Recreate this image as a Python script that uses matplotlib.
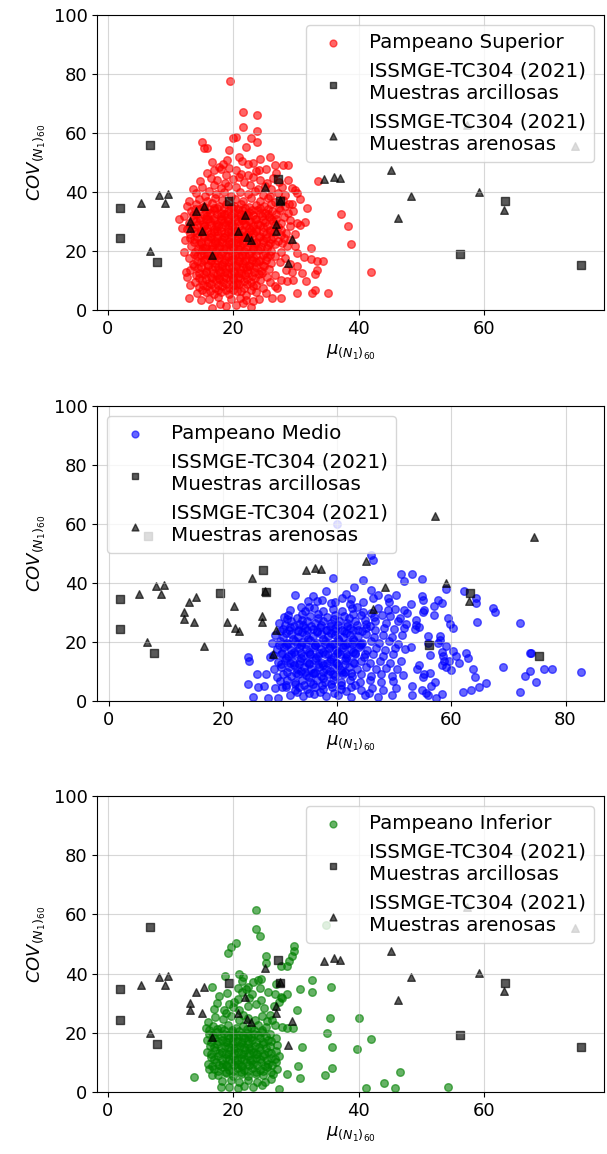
import numpy as np
import matplotlib.pyplot as plt
from matplotlib.ticker import MultipleLocator

# ISSMGE-TC304 (2021) reference data (same in the three panels)
arcilla_x = [6.8, 2.0, 2.0, 7.9, 27.1, 19.4, 27.5, 56.1, 63.3, 75.4]
arcilla_y = [55.8, 34.7, 24.5, 16.2, 44.5, 36.8, 37.0, 19.1, 36.8, 15.3]

arena_x = [5.3, 8.2, 9.7, 9.1, 6.7, 13.2, 13.2, 14.1, 15.3, 15.0, 16.6, 25.1, 21.9, 20.8,
           22.2, 22.9, 26.9, 26.8, 27.4, 29.3, 28.7, 34.5, 36.1, 37.1, 45.1, 48.4, 46.3,
           59.1, 63.1, 74.4, 57.2]
arena_y = [36.3, 38.9, 39.3, 36.3, 19.9, 30.1, 27.7, 33.7, 35.4, 26.7, 18.5, 41.8, 32.2, 26.8,
           24.6, 23.7, 29.0, 26.7, 37.3, 24.0, 15.9, 44.3, 45.2, 44.7, 47.5, 38.8, 31.2,
           40.1, 34.0, 55.5, 62.6]

# Pampeano Superior (mu, COV)
superior_pts = [
    (19.5, 77.6), (21.6, 67.0), (23.8, 66.2), (21.6, 62.0), (23.8, 60.8), (15.1, 57.1), (15.3, 55.0),
    (15.9, 54.8), (20.0, 58.4), (20.5, 58.8), (22.0, 55.4), (22.8, 58.2), (23.8, 56.8), (19.3, 54.1),
    (20.9, 51.8), (19.0, 50.9), (24.2, 51.1), (25.9, 52.0), (17.0, 47.5), (17.8, 48.6), (18.1, 47.9),
    (19.3, 48.0), (20.4, 47.5), (22.3, 49.4), (24.1, 47.5), (25.2, 47.8), (16.4, 44.6), (20.9, 45.0),
    (22.3, 45.8), (23.1, 45.0), (13.6, 40.9), (15.5, 38.7), (13.0, 37.0), (11.3, 30.9), (11.9, 27.7),
    (12.2, 19.8), (12.5, 13.0), (12.7, 11.3), (13.1, 8.5), (13.0, 4.0), (14.8, 3.4), (16.7, 0.6),
    (18.8, 1.4), (22.0, 3.4), (24.1, 3.6), (26.2, 4.0), (27.0, 7.4), (22.9, 1.0),
    (27.9, 49.2), (28.8, 49.2), (28.7, 44.1), (29.3, 41.2), (29.8, 40.7), (30.1, 39.8), (30.7, 37.5),
    (28.9, 35.8), (29.3, 35.9), (31.8, 34.5), (28.7, 32.8), (30.2, 29.4), (30.6, 28.8), (31.4, 29.9),
    (29.0, 28.3), (27.6, 27.1), (28.4, 26.0), (28.1, 24.3), (27.8, 22.6), (28.6, 21.8), (30.1, 19.4),
    (32.4, 21.1), (32.4, 17.3), (33.4, 16.6), (34.3, 16.6), (33.4, 13.6), (33.0, 12.2), (30.2, 15.0),
    (29.4, 13.0), (31.0, 12.4), (31.6, 9.9), (29.5, 10.2), (27.7, 10.2), (30.1, 5.7), (32.6, 5.9),
    (33.1, 6.8), (35.1, 5.7), (27.7, 4.0), (33.5, 43.7), (37.2, 32.6), (38.3, 28.3), (38.8, 22.3),
    (42.0, 12.9),
    (16.6, 50.3), (18.4, 49.6), (21.4, 50.6), (23.1, 49.9), (26.6, 49.3),
    (15.9, 46.6), (21.3, 46.2), (23.6, 47.1), (26.9, 46.4), (18.9, 45.7),
    (14.7, 43.6), (17.4, 44.2), (18.7, 43.1), (19.9, 44.5), (21.8, 43.4), (24.3, 44.0), (25.4, 43.2),
    (26.3, 44.8), (27.3, 43.5),
    (15.1, 41.8), (16.9, 42.4), (18.1, 41.3), (19.2, 42.0), (20.5, 41.6), (22.7, 42.3), (23.9, 41.0),
    (25.0, 42.1), (26.1, 40.9), (27.8, 41.7),
    (14.1, 39.6), (16.1, 40.3), (17.3, 39.2), (18.6, 40.1), (19.7, 38.8), (21.1, 39.9), (22.3, 39.4),
    (23.5, 40.2), (24.7, 39.1), (25.9, 38.6), (27.1, 39.7), (28.3, 38.9),
    (14.6, 37.6), (15.9, 36.9), (17.1, 38.0), (18.3, 37.2), (20.3, 37.7), (21.6, 36.8), (22.9, 38.1),
    (24.3, 37.0), (25.6, 37.9), (26.7, 36.6), (27.9, 37.4),
    (12.6, 35.4), (14.1, 35.9), (15.3, 35.0), (16.6, 36.2), (17.7, 35.3), (18.9, 36.0), (20.1, 35.1),
    (21.3, 35.8), (22.5, 34.9), (23.7, 35.6), (24.9, 35.2), (26.1, 35.9), (27.3, 34.7), (28.3, 35.3),
    (13.3, 33.6), (14.6, 34.1), (15.7, 33.2), (16.9, 33.9), (18.0, 32.9), (19.1, 33.7), (20.2, 33.0),
    (21.4, 33.8), (22.6, 33.1), (23.8, 33.9), (25.0, 32.8), (26.2, 33.5), (27.5, 33.9), (29.6, 33.4),
    (12.1, 31.7), (13.6, 32.2), (14.7, 31.3), (15.8, 32.0), (16.9, 31.1), (18.0, 31.8), (19.1, 30.9),
    (20.2, 31.6), (21.3, 31.2), (22.4, 32.1), (23.5, 31.0), (24.6, 31.7), (25.7, 31.4), (26.9, 30.8),
    (28.1, 31.6),
    (12.9, 29.6), (14.1, 30.2), (15.2, 29.3), (16.3, 30.0), (17.4, 29.1), (18.5, 29.8), (19.6, 29.4),
    (20.7, 30.1), (21.8, 29.2), (22.9, 29.9), (24.0, 29.0), (25.1, 29.7), (26.3, 30.3), (27.6, 29.5),
    (29.1, 30.4),
    (12.6, 27.4), (13.7, 28.1), (14.8, 27.2), (15.9, 27.9), (17.0, 27.6), (18.1, 28.2), (19.2, 27.3),
    (20.3, 28.0), (21.4, 27.1), (22.5, 27.8), (23.6, 27.4), (24.7, 28.1), (25.9, 27.2), (27.1, 28.0),
    (13.1, 25.7), (14.3, 26.2), (15.4, 25.3), (16.5, 26.0), (17.6, 25.5), (18.7, 26.1), (19.8, 25.2),
    (20.9, 25.9), (22.0, 25.4), (23.1, 26.2), (24.2, 25.1), (25.3, 25.8), (26.5, 26.3), (27.7, 25.5),
    (29.9, 25.9),
    (12.4, 23.6), (13.7, 24.1), (14.9, 23.2), (16.0, 23.9), (17.1, 23.4), (18.2, 24.2), (19.3, 23.3),
    (20.4, 24.0), (21.5, 23.5), (22.6, 24.3), (23.7, 23.1), (24.8, 23.8), (26.0, 24.2), (27.1, 23.3),
    (29.1, 23.7),
    (13.3, 21.8), (14.5, 22.3), (15.6, 21.4), (16.7, 22.1), (17.8, 21.6), (18.9, 22.4), (20.0, 21.3),
    (21.1, 22.0), (22.2, 21.5), (23.3, 22.2), (24.4, 21.2), (25.5, 21.9), (26.6, 22.4), (29.9, 21.6),
    (13.9, 19.7), (15.1, 20.2), (16.2, 19.4), (17.3, 20.1), (18.4, 19.6), (19.5, 20.3), (20.6, 19.2),
    (21.7, 19.9), (22.8, 19.5), (23.9, 20.2), (25.0, 19.3), (26.1, 20.0), (27.6, 19.6),
    (12.9, 17.6), (14.3, 18.2), (15.5, 17.3), (16.6, 18.0), (17.7, 17.5), (18.8, 18.3), (19.9, 17.2),
    (21.0, 17.9), (22.1, 17.4), (23.2, 18.1), (24.3, 17.1), (25.4, 17.8), (26.7, 18.2), (28.3, 17.6),
    (31.3, 18.0),
    (13.6, 15.7), (14.9, 16.2), (16.0, 15.3), (17.1, 16.0), (18.2, 15.5), (19.3, 16.3), (20.4, 15.2),
    (21.5, 15.9), (22.6, 15.4), (23.7, 16.1), (24.8, 15.1), (26.1, 15.8), (27.5, 16.2), (29.1, 15.6),
    (13.1, 13.6), (14.4, 14.1), (15.6, 13.2), (16.7, 13.9), (17.8, 13.4), (18.9, 14.2), (20.0, 13.3),
    (21.1, 14.0), (22.2, 13.5), (23.3, 14.3), (24.5, 13.2), (25.7, 13.9), (28.4, 13.7),
    (14.1, 11.7), (15.3, 12.2), (16.4, 11.3), (17.5, 12.0), (18.6, 11.5), (19.7, 12.3), (20.8, 11.2),
    (21.9, 11.9), (23.0, 11.4), (24.1, 12.1), (25.4, 11.3), (26.7, 12.0),
    (13.9, 9.6), (15.1, 10.2), (16.2, 9.3), (17.3, 10.0), (18.4, 9.5), (19.5, 10.3), (20.6, 9.2),
    (21.7, 9.9), (22.9, 9.4), (24.3, 10.1), (25.9, 9.5), (28.6, 9.8),
    (14.6, 7.7), (15.9, 8.2), (17.1, 7.4), (18.3, 8.1), (19.4, 7.6), (20.5, 8.3), (21.7, 7.3),
    (23.1, 8.0), (24.7, 7.5), (26.6, 8.2),
    (14.3, 5.6), (15.6, 6.2), (16.9, 5.4), (18.1, 6.1), (19.3, 5.5), (20.6, 6.3), (22.1, 5.2),
    (23.6, 6.0), (25.3, 5.7),
    (16.1, 3.8), (17.6, 4.3), (19.7, 3.6), (21.1, 4.2), (23.1, 3.2), (17.9, 2.1), (20.4, 1.8), (21.6, 2.4),
    (16.0, 30.9), (17.2, 28.6), (18.3, 30.4), (19.4, 28.9), (20.5, 26.9), (21.6, 30.6), (17.4, 26.8),
    (18.5, 24.9), (19.6, 26.6), (20.7, 22.9), (21.8, 24.6), (16.3, 24.6), (17.5, 22.7), (18.6, 20.9),
    (19.7, 22.6), (20.8, 20.7), (21.9, 18.7), (16.4, 20.8), (17.6, 18.8), (18.7, 16.9), (19.8, 18.6),
    (20.9, 16.6), (22.0, 14.7), (16.5, 16.8), (17.6, 14.7), (18.7, 12.8), (19.8, 14.6), (20.9, 12.7),
    (17.7, 10.8), (19.9, 10.7), (18.8, 32.6), (20.0, 34.4), (17.0, 34.6), (21.2, 32.5), (22.8, 27.0),
    (23.2, 20.8), (23.0, 16.9), (15.3, 28.5), (15.2, 21.0), (15.4, 18.9),
]

# dense core of the Pampeano Superior cloud
superior_core = [
    (14.0, 34.3), (15.2, 34.8), (16.2, 34.1), (17.4, 34.6), (18.5, 34.4), (19.6, 34.9), (20.8, 34.2),
    (21.9, 34.7), (23.0, 34.0), (24.2, 34.5), (25.5, 34.3),
    (14.1, 32.6), (15.3, 32.3), (16.3, 32.9), (17.5, 32.4), (18.6, 32.7), (19.7, 32.1), (20.9, 32.8),
    (22.0, 32.5), (23.1, 32.2), (24.3, 32.9), (25.6, 32.4), (26.8, 32.6),
    (13.6, 30.8), (14.7, 30.4), (15.7, 30.9), (16.9, 30.5), (18.0, 30.7), (19.1, 30.2), (20.3, 30.9),
    (21.4, 30.6), (22.5, 30.3), (23.6, 30.8), (24.8, 30.5), (26.0, 30.7),
    (13.2, 28.4), (14.3, 28.9), (15.4, 28.5), (16.5, 28.7), (17.6, 28.3), (18.7, 28.8), (19.8, 28.6),
    (20.9, 28.4), (22.0, 28.9), (23.1, 28.5), (24.2, 28.7), (25.4, 28.3), (26.6, 28.8),
    (13.7, 26.8), (14.8, 26.4), (15.9, 26.9), (17.0, 26.5), (18.1, 26.7), (19.2, 26.3), (20.3, 26.8),
    (21.4, 26.6), (22.5, 26.4), (23.6, 26.9), (24.7, 26.5), (25.9, 26.7),
    (13.1, 24.5), (14.2, 24.9), (15.3, 24.6), (16.4, 24.8), (17.5, 24.4), (18.6, 24.9), (19.7, 24.7),
    (20.8, 24.5), (21.9, 24.8), (23.0, 24.6), (24.1, 24.9), (25.2, 24.4), (26.4, 24.7),
    (13.8, 22.9), (14.9, 22.6), (16.0, 23.0), (17.1, 22.7), (18.2, 22.9), (19.3, 22.5), (20.4, 22.8),
    (21.5, 22.6), (22.6, 23.0), (23.7, 22.7), (24.8, 22.9), (25.9, 22.6),
    (14.4, 20.6), (15.5, 21.0), (16.6, 20.7), (17.7, 20.9), (18.8, 20.5), (19.9, 21.0), (21.0, 20.8),
    (22.1, 20.6), (23.2, 20.9), (24.3, 20.7), (25.4, 21.0),
    (13.7, 18.9), (14.8, 18.5), (15.9, 18.8), (17.0, 18.6), (18.1, 18.9), (19.2, 18.4), (20.3, 18.8),
    (21.4, 18.6), (22.5, 18.9), (23.6, 18.5), (24.7, 18.8), (25.9, 18.6),
    (14.2, 16.5), (15.3, 16.9), (16.4, 16.6), (17.5, 16.8), (18.6, 16.4), (19.7, 16.9), (20.8, 16.7),
    (21.9, 16.5), (23.0, 16.8), (24.1, 16.6), (25.3, 16.9),
    (13.8, 14.9), (14.9, 14.5), (16.0, 14.8), (17.1, 14.6), (18.2, 14.9), (19.3, 14.4), (20.4, 14.8),
    (21.5, 14.6), (22.6, 14.9), (23.7, 14.5), (24.9, 14.8),
    (14.6, 12.5), (15.7, 12.9), (16.8, 12.6), (17.9, 12.8), (19.0, 12.4), (20.1, 12.9), (21.2, 12.7),
    (22.3, 12.5), (23.4, 12.8), (24.6, 12.6),
    (14.5, 10.9), (15.6, 10.5), (16.7, 10.8), (17.8, 10.6), (18.9, 10.9), (20.0, 10.4), (21.1, 10.8),
    (22.2, 10.6), (23.5, 10.9),
    (15.2, 8.5), (16.4, 8.9), (17.6, 8.6), (18.8, 8.8), (19.9, 8.4), (21.0, 8.9), (22.2, 8.7),
    (23.6, 8.5),
    (15.0, 6.9), (16.3, 6.5), (17.6, 6.8), (18.8, 6.6), (20.0, 6.9), (21.3, 6.4), (22.8, 6.8),
]

# Pampeano Medio (mu, COV)
medio_pts = [
    (40.0, 60.0), (46.2, 47.8), (46.0, 49.5), (39.2, 41.8), (44.5, 41.2), (51.1, 43.0), (51.7, 40.8),
    (53.1, 43.2), (54.9, 41.4), (59.1, 38.0), (62.3, 37.4), (64.4, 34.8), (64.4, 33.1), (67.3, 31.6),
    (67.7, 30.3), (64.5, 26.8), (72.0, 26.3), (54.8, 35.7), (55.0, 34.2), (57.7, 34.2), (58.3, 33.1),
    (56.9, 32.2), (55.0, 30.3), (55.3, 30.9), (56.9, 29.2), (59.4, 28.0), (59.8, 26.0), (60.3, 24.9),
    (53.0, 32.9), (53.9, 27.5), (53.9, 25.8), (53.6, 24.3), (54.3, 25.0), (55.9, 22.0), (58.0, 22.0),
    (58.1, 20.7), (57.7, 19.6), (59.0, 18.6), (60.3, 17.1), (60.9, 15.3), (61.3, 13.0), (62.5, 16.4),
    (62.9, 14.5), (58.3, 16.7), (58.6, 15.3), (58.7, 13.7), (59.6, 13.7), (58.3, 12.2), (59.0, 11.6),
    (60.0, 10.5), (56.3, 15.6), (53.0, 18.2), (54.3, 12.2), (54.0, 10.7), (55.3, 9.2), (56.2, 9.4),
    (55.0, 8.2), (63.8, 10.7), (64.1, 8.3), (69.1, 11.4), (66.1, 6.2), (64.8, 4.9), (63.5, 3.7),
    (62.0, 3.1), (57.1, 6.6), (56.5, 5.1), (54.8, 3.7), (55.6, 2.6), (55.9, 2.0), (58.3, 2.3),
    (57.4, 0.9), (53.2, 5.1), (53.2, 2.0), (73.8, 16.2), (73.9, 16.3), (72.9, 8.6), (73.8, 10.2),
    (74.8, 6.6), (76.3, 10.7), (77.7, 10.7), (72.1, 3.2), (82.7, 10.0), (55.9, 19.6),
    (32.7, 35.9), (38.1, 37.4), (36.5, 33.9), (34.9, 33.9), (35.0, 32.0), (33.6, 31.8), (39.0, 33.3),
    (39.6, 33.7), (40.8, 35.1), (42.4, 34.5), (42.2, 32.9), (43.5, 31.8), (44.5, 30.3), (44.1, 29.2),
    (46.3, 35.1), (47.2, 35.9), (48.9, 34.8), (49.0, 33.7), (45.9, 30.0), (47.8, 29.2), (50.1, 31.1),
    (51.8, 30.9), (52.3, 29.7), (30.7, 28.4), (31.4, 29.2), (32.9, 28.0), (24.4, 15.0), (24.6, 13.7),
    (28.2, 15.0), (25.9, 9.2), (27.6, 9.2), (24.4, 5.8), (26.2, 4.9), (27.2, 5.1), (25.3, 1.5),
    (27.9, 0.9), (29.7, 0.9), (29.1, 4.3), (31.1, 4.9), (32.6, 3.7), (30.2, 11.6), (29.4, 8.3),
    (29.8, 26.4), (31.9, 27.1), (33.4, 26.2), (34.8, 27.0), (36.1, 26.5), (37.5, 27.3), (38.9, 26.3),
    (40.3, 27.0), (41.8, 26.6), (43.2, 27.2), (45.0, 26.1), (46.7, 27.0), (48.5, 26.4), (50.6, 27.2),
    (52.0, 26.0),
    (30.5, 24.3), (31.8, 25.0), (33.1, 24.1), (34.4, 24.9), (35.7, 24.4), (37.0, 25.1), (38.3, 24.2),
    (39.6, 24.8), (40.9, 24.0), (42.2, 24.7), (43.6, 24.2), (45.1, 24.9), (46.6, 24.1), (48.2, 24.8),
    (50.0, 24.3), (51.8, 24.6),
    (29.2, 22.3), (30.6, 21.8), (31.9, 22.6), (33.2, 21.7), (34.5, 22.5), (35.8, 22.0), (37.1, 22.8),
    (38.4, 21.9), (39.7, 22.4), (41.0, 21.6), (42.3, 22.5), (43.6, 21.9), (45.0, 22.7), (46.5, 21.8),
    (48.0, 22.4), (49.6, 21.7), (51.3, 22.3),
    (28.6, 19.8), (30.0, 20.4), (31.3, 19.6), (32.6, 20.3), (33.9, 19.9), (35.2, 20.6), (36.5, 19.7),
    (37.8, 20.2), (39.1, 19.5), (40.4, 20.4), (41.7, 19.8), (43.0, 20.5), (44.4, 19.6), (45.9, 20.3),
    (47.4, 19.7), (49.0, 20.4), (50.7, 19.5),
    (29.4, 17.6), (30.7, 18.2), (32.0, 17.4), (33.3, 18.1), (34.6, 17.7), (35.9, 18.4), (37.2, 17.5),
    (38.5, 18.0), (39.8, 17.3), (41.1, 18.2), (42.4, 17.6), (43.8, 18.3), (45.3, 17.4), (46.8, 18.0),
    (48.4, 17.3), (50.1, 18.1), (51.9, 17.5),
    (28.8, 15.7), (30.1, 16.0), (31.4, 15.2), (32.7, 15.9), (34.0, 15.4), (35.3, 16.1), (36.6, 15.2),
    (37.9, 15.8), (39.2, 15.1), (40.5, 16.0), (41.8, 15.3), (43.2, 15.9), (44.7, 15.1), (46.3, 15.8),
    (48.0, 15.2), (49.8, 15.9),
    (29.6, 13.4), (30.9, 13.9), (32.2, 13.1), (33.5, 13.7), (34.8, 13.2), (36.1, 13.9), (37.4, 13.0),
    (38.7, 13.6), (40.0, 12.9), (41.3, 13.8), (42.7, 13.1), (44.2, 13.7), (45.8, 12.9), (47.5, 13.6),
    (49.3, 13.0), (51.2, 13.5),
    (28.9, 11.0), (31.6, 11.4), (32.9, 10.9), (34.2, 11.6), (35.5, 10.8), (36.8, 11.5), (38.1, 10.7),
    (39.4, 11.3), (40.7, 10.6), (42.0, 11.4), (43.5, 10.8), (45.1, 11.5), (46.8, 10.7), (48.6, 11.3),
    (50.5, 10.8),
    (30.6, 9.1), (31.9, 8.6), (33.2, 9.3), (34.5, 8.8), (35.8, 9.4), (37.1, 8.5), (38.4, 9.2),
    (39.7, 8.4), (41.1, 9.1), (42.6, 8.6), (44.2, 9.3), (45.9, 8.5), (47.7, 9.1), (49.6, 8.4),
    (51.6, 9.0),
    (30.0, 6.8), (31.3, 7.3), (32.6, 6.6), (33.9, 7.2), (35.2, 6.5), (36.5, 7.1), (37.8, 6.4),
    (39.2, 7.0), (40.7, 6.3), (42.3, 7.2), (44.0, 6.5), (45.8, 7.0), (47.7, 6.3), (49.8, 6.9),
    (30.3, 4.6), (33.3, 4.9), (34.7, 4.2), (36.1, 4.8), (37.6, 4.1), (39.1, 4.7), (40.7, 4.0),
    (42.4, 4.6), (44.2, 3.9), (46.1, 4.5), (48.1, 3.8), (50.3, 4.4),
    (31.8, 2.2), (34.0, 1.8), (35.9, 2.4), (38.0, 1.6), (40.2, 2.1), (42.5, 1.5), (44.8, 2.0),
    (47.2, 1.4), (49.6, 1.9),
    (33.9, 29.4), (35.3, 28.8), (36.7, 29.6), (38.2, 28.6), (39.7, 29.3), (41.2, 28.7), (42.8, 29.5),
    (46.4, 28.4), (49.2, 28.9), (51.0, 28.3),
    (31.7, 31.0), (34.3, 30.6), (36.0, 31.4), (37.6, 30.5), (39.2, 31.2), (40.8, 30.6), (42.6, 31.5),
    (47.1, 31.6), (48.9, 30.8),
    (37.3, 34.4), (41.5, 36.2), (44.6, 33.6), (46.0, 37.8), (50.3, 36.0), (43.0, 38.5), (35.8, 35.6),
    (31.0, 23.2), (33.8, 23.4), (36.4, 23.3), (39.0, 23.2), (41.6, 23.1), (32.3, 21.0), (34.9, 21.1),
    (37.5, 21.0), (40.1, 21.1), (42.7, 21.0), (31.0, 18.9), (33.6, 19.0), (36.2, 18.9), (38.8, 18.8),
    (41.4, 18.9), (44.0, 19.0), (32.4, 16.8), (35.0, 16.7), (37.6, 16.8), (40.2, 16.7), (42.8, 16.8),
    (31.1, 14.5), (33.7, 14.6), (36.3, 14.5), (38.9, 14.4), (41.5, 14.6), (32.4, 12.3), (35.0, 12.4),
    (37.6, 12.3), (40.2, 12.2), (33.6, 10.1), (36.2, 10.0), (38.8, 10.1), (41.4, 10.0), (35.0, 8.0),
    (37.6, 7.9),
]

# dense core of the Pampeano Medio cloud
medio_core = [
    (31.2, 27.9), (33.9, 27.6), (36.7, 28.1), (39.4, 27.7), (42.1, 28.0), (44.8, 27.5),
    (30.8, 25.7), (32.4, 25.4), (34.0, 25.9), (35.5, 25.5), (37.1, 25.8), (38.7, 25.3), (40.2, 25.7),
    (41.8, 25.5), (43.4, 25.9), (45.8, 25.6),
    (30.0, 23.7), (31.6, 24.1), (33.2, 23.8), (34.8, 24.0), (36.4, 23.6), (38.0, 24.2), (39.6, 23.9),
    (41.2, 23.7), (42.8, 24.0), (44.4, 23.8),
    (29.8, 19.1), (31.4, 19.5), (33.0, 19.2), (34.6, 19.4), (36.2, 19.0), (37.8, 19.5), (39.4, 19.3),
    (41.0, 19.1), (42.6, 19.4), (44.2, 19.2),
    (30.4, 16.4), (32.0, 16.0), (33.6, 16.3), (35.2, 16.1), (36.8, 16.4), (38.4, 15.9), (40.0, 16.3),
    (41.6, 16.1), (43.2, 16.4), (44.8, 16.0),
    (30.2, 12.6), (31.8, 13.0), (33.4, 12.7), (35.0, 12.9), (36.6, 12.5), (38.2, 13.0), (39.8, 12.8),
    (41.4, 12.6), (43.0, 12.9),
    (31.2, 9.8), (32.8, 9.4), (34.4, 9.7), (36.0, 9.5), (37.6, 9.8), (39.2, 9.3), (40.8, 9.7),
    (42.4, 9.5),
    (31.0, 5.4), (32.6, 5.8), (34.2, 5.5), (35.8, 5.7), (37.4, 5.3), (39.0, 5.8), (40.6, 5.6),
    (43.1, 5.4),
    (32.9, 3.1), (35.0, 2.8), (37.0, 3.2), (39.5, 2.9), (41.6, 3.3), (45.5, 2.7),
]

# Pampeano Inferior (mu, COV)
inferior_pts = [
    (23.6, 61.6), (23.6, 55.2), (24.3, 52.6), (19.2, 46.9), (19.6, 48.9), (20.4, 50.3), (25.2, 45.8),
    (25.3, 43.5), (29.7, 49.2), (29.7, 47.5), (29.4, 45.8), (28.9, 44.1), (28.5, 42.7), (27.7, 42.7),
    (18.7, 39.3), (20.9, 39.8), (21.5, 39.0), (21.4, 37.5), (23.2, 37.1), (24.0, 37.9), (24.4, 38.2),
    (22.4, 35.6), (22.0, 34.8), (16.7, 35.6), (20.7, 35.0), (21.4, 33.9), (26.8, 36.4), (25.6, 33.9),
    (26.7, 33.0), (27.6, 32.2), (28.5, 33.0), (24.4, 31.1), (22.5, 31.6), (20.8, 31.4), (20.1, 30.3),
    (19.3, 29.6), (17.5, 30.0), (18.6, 27.7), (18.8, 26.6), (20.9, 27.7), (21.5, 26.0), (27.3, 30.5),
    (27.8, 31.7), (25.8, 26.0), (26.2, 24.3), (25.4, 24.0), (30.2, 27.7), (30.6, 34.8), (32.5, 33.9),
    (32.5, 37.9), (35.6, 35.6), (27.8, 22.0), (28.6, 21.7), (29.5, 21.5), (27.0, 16.0), (31.0, 15.3),
    (35.5, 24.9), (40.0, 25.1), (34.9, 20.1), (35.8, 15.3), (41.9, 17.9), (39.8, 14.5), (30.4, 8.8),
    (30.6, 4.8), (28.6, 6.2), (35.7, 8.2), (34.6, 5.9), (13.8, 5.1), (16.2, 7.9), (16.7, 5.7),
    (41.1, 1.4), (44.0, 3.2), (45.8, 1.4), (46.6, 6.8), (54.2, 1.7), (18.0, 1.7), (19.4, 1.7),
    (20.8, 1.4), (27.3, 1.1), (25.1, 3.4), (34.8, 56.5),
    (16.0, 23.8), (17.1, 25.2), (18.4, 24.6), (19.7, 25.6), (21.0, 24.3), (22.3, 25.1), (23.5, 24.5),
    (24.6, 25.7),
    (15.6, 21.6), (16.8, 22.4), (18.0, 21.8), (19.2, 22.6), (20.4, 21.5), (21.6, 22.3), (22.8, 21.7),
    (24.0, 22.5), (25.3, 21.9), (26.6, 22.6),
    (16.2, 19.6), (17.4, 20.3), (18.6, 19.5), (19.8, 20.2), (21.0, 19.4), (22.2, 20.1), (23.4, 19.6),
    (24.6, 20.4), (25.9, 19.7),
    (15.8, 17.6), (17.0, 18.3), (18.2, 17.5), (19.4, 18.2), (20.6, 17.4), (21.8, 18.1), (23.0, 17.6),
    (24.2, 18.3), (25.5, 17.5), (26.8, 18.1),
    (16.3, 15.7), (17.5, 16.3), (18.7, 15.5), (19.9, 16.2), (21.1, 15.4), (22.3, 16.1), (23.5, 15.6),
    (24.7, 16.3), (25.9, 15.5),
    (15.9, 13.6), (17.1, 14.3), (18.3, 13.5), (19.5, 14.2), (20.7, 13.4), (21.9, 14.1), (23.1, 13.6),
    (24.3, 14.3), (25.5, 13.5), (26.8, 14.0),
    (16.4, 11.7), (17.6, 12.3), (18.8, 11.5), (20.0, 12.2), (21.2, 11.4), (22.4, 12.1), (23.6, 11.6),
    (24.8, 12.3), (26.0, 11.5), (27.3, 12.1),
    (16.0, 9.6), (17.2, 10.3), (18.4, 9.5), (19.6, 10.2), (20.8, 9.4), (22.0, 10.1), (23.2, 9.6),
    (24.4, 10.3), (25.6, 9.5), (26.9, 10.0),
    (17.0, 7.7), (18.2, 8.3), (19.4, 7.5), (20.6, 8.2), (21.8, 7.4), (23.0, 8.1), (24.2, 7.6),
    (25.4, 8.3), (27.0, 7.8),
    (17.6, 5.6), (18.8, 6.3), (20.0, 5.5), (21.2, 6.2), (22.4, 5.4), (23.6, 6.1), (24.8, 5.6),
    (26.3, 6.0),
    (18.2, 3.6), (19.6, 4.2), (21.0, 3.5), (22.4, 4.1), (23.8, 3.3), (26.0, 4.4), (21.7, 2.0),
    (23.2, 1.6), (24.6, 2.3),
    (19.0, 16.9), (20.2, 15.0), (21.4, 16.8), (22.6, 14.9), (19.1, 12.9), (20.3, 10.9), (21.5, 12.8),
    (22.7, 10.8), (18.9, 9.0), (21.3, 8.8), (23.8, 12.8), (20.0, 18.9), (22.4, 18.8),
    (16.9, 28.2), (19.9, 28.6), (22.3, 28.9), (23.6, 29.8), (24.9, 28.3), (26.5, 28.9), (17.8, 32.3),
    (19.0, 33.6), (23.0, 33.2), (24.3, 35.1),
]

# dense core of the Pampeano Inferior cloud
inferior_core = [
    (16.2, 20.8), (17.4, 21.2), (18.6, 20.9), (19.8, 21.1), (21.0, 20.7), (22.2, 21.2), (23.4, 21.0),
    (24.6, 20.8),
    (16.8, 19.2), (18.0, 18.8), (19.2, 19.1), (20.4, 18.9), (21.6, 19.2), (22.8, 18.7), (24.0, 19.1),
    (25.2, 18.9),
    (16.4, 16.8), (17.6, 17.2), (18.8, 16.9), (20.0, 17.1), (21.2, 16.7), (22.4, 17.2), (23.6, 17.0),
    (24.8, 16.8), (26.1, 17.1),
    (16.9, 15.2), (18.1, 14.8), (19.3, 15.1), (20.5, 14.9), (21.7, 15.2), (22.9, 14.7), (24.1, 15.1),
    (25.3, 14.9),
    (16.5, 12.8), (17.7, 13.2), (18.9, 12.9), (20.1, 13.1), (21.3, 12.7), (22.5, 13.2), (23.7, 13.0),
    (24.9, 12.8), (26.1, 13.1),
    (17.0, 11.2), (18.2, 10.8), (19.4, 11.1), (20.6, 10.9), (21.8, 11.2), (23.0, 10.7), (24.2, 11.1),
    (25.4, 10.9), (26.6, 11.2),
    (16.6, 8.8), (17.8, 9.2), (19.0, 8.9), (20.2, 9.1), (21.4, 8.7), (22.6, 9.2), (23.8, 9.0),
    (25.0, 8.8), (26.2, 9.1),
    (17.6, 7.2), (18.8, 6.8), (20.0, 7.1), (21.2, 6.9), (22.4, 7.2), (23.6, 6.7), (24.8, 7.1),
    (26.0, 6.9),
]

plt.rcParams['font.size'] = 13

fig = plt.figure(figsize=(6.07, 11.54), dpi=100)
fig.patch.set_facecolor("white")

# axes positions measured on the original figure
panels = [
    ([0.160, 0.7314, 0.835, 0.2556], superior_pts + superior_core, 'red', 'Pampeano Superior', 'upper right'),
    ([0.160, 0.3925, 0.835, 0.2556], medio_pts + medio_core, 'blue', 'Pampeano Medio', 'upper left'),
    ([0.160, 0.0537, 0.835, 0.2565], inferior_pts + inferior_core, 'green', 'Pampeano Inferior', 'upper right'),
]

for rect, pts, color, label, loc in panels:
    ax = fig.add_axes(rect)
    pts = np.array(pts)
    ax.scatter(pts[:, 0], pts[:, 1], s=30, color=color, alpha=0.6, label=label)
    ax.scatter(arcilla_x, arcilla_y, s=30, marker='s', color='k', alpha=0.65,
               label='ISSMGE-TC304 (2021)\nMuestras arcillosas')
    ax.scatter(arena_x, arena_y, s=30, marker='^', color='k', alpha=0.65,
               label='ISSMGE-TC304 (2021)\nMuestras arenosas')
    ax.set_ylim(0, 100)
    ax.set_yticks([0, 20, 40, 60, 80, 100])
    ax.xaxis.set_major_locator(MultipleLocator(20))
    ax.grid(True, alpha=0.5)
    ax.set_xlabel(r'$\mu_{(N_1)_{60}}$')
    ax.set_ylabel(r'$COV_{(N_1)_{60}}$')
    ax.legend(loc=loc, fontsize=14.3, markerscale=0.9)

fig.savefig("out.png", dpi=100)
